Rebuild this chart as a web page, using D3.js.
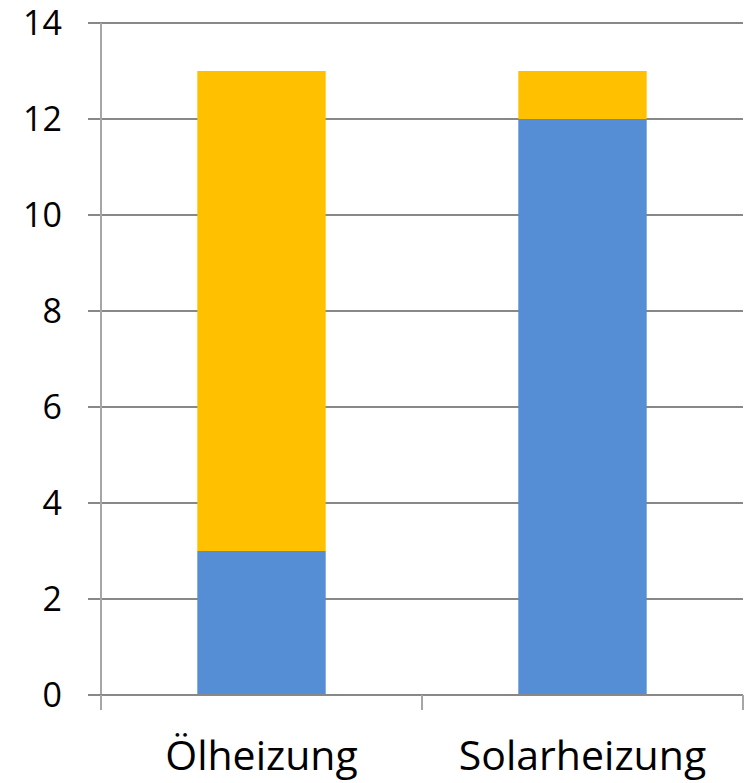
<!DOCTYPE html>
<html>
<head>
<meta charset="utf-8">
<script src="https://cdn.jsdelivr.net/npm/d3@7"></script>
<style>
  html, body { margin: 0; padding: 0; background: #fff; }
  svg { display: block; font-family: "Open Sans", sans-serif; }
</style>
</head>
<body>
<div id="chart"></div>
<script>
// data
const categories = ['Ölheizung', 'Solarheizung'];
const seriesKeys = ['unten', 'oben'];
const lowerValues = [3, 12];
const upperValues = [10, 1];
const yTicks = [0, 2, 4, 6, 8, 10, 12, 14];

const COLORS = { unten: '#558ed5', oben: '#ffc000' };
const WIDTH = 747;
const HEIGHT = 783;
const margin = { top: 23, right: 4, bottom: 88, left: 101 };

const rows = categories.map((c, i) => ({ cat: c, unten: lowerValues[i], oben: upperValues[i] }));
const stacked = d3.stack().keys(seriesKeys)(rows);

const svg = d3.select('#chart').append('svg')
  .attr('width', WIDTH)
  .attr('height', HEIGHT);

const x = d3.scaleBand()
  .domain(categories)
  .range([margin.left, WIDTH - margin.right]);

const y = d3.scaleLinear()
  .domain([0, 14])
  .range([HEIGHT - margin.bottom, margin.top]);

// horizontal gridlines with small left ticks
svg.append('g')
  .selectAll('line')
  .data(yTicks.filter(t => t > 0))
  .join('line')
  .attr('x1', margin.left - 13)
  .attr('x2', WIDTH - margin.right)
  .attr('y1', d => y(d))
  .attr('y2', d => y(d))
  .attr('stroke', '#888')
  .attr('stroke-width', 2);

// y axis line
svg.append('line')
  .attr('x1', margin.left).attr('x2', margin.left)
  .attr('y1', y(14)).attr('y2', y(0))
  .attr('stroke', '#a6a6a6')
  .attr('stroke-width', 2);

// bars
const barW = x.bandwidth() * 0.4;
svg.append('g')
  .selectAll('g')
  .data(stacked)
  .join('g')
  .attr('fill', d => COLORS[d.key])
  .selectAll('rect')
  .data(d => d)
  .join('rect')
  .attr('x', d => x(d.data.cat) + (x.bandwidth() - barW) / 2)
  .attr('width', barW)
  .attr('y', d => y(d[1]))
  .attr('height', d => y(d[0]) - y(d[1]));

// x axis baseline and category ticks
svg.append('line')
  .attr('x1', margin.left - 13).attr('x2', WIDTH - margin.right)
  .attr('y1', y(0)).attr('y2', y(0))
  .attr('stroke', '#888')
  .attr('stroke-width', 2);

const bounds = categories.map(c => x(c)).concat([x.range()[1]]);
svg.append('g')
  .selectAll('line')
  .data(bounds)
  .join('line')
  .attr('x1', d => d).attr('x2', d => d)
  .attr('y1', y(0)).attr('y2', y(0) + 15)
  .attr('stroke', '#a6a6a6')
  .attr('stroke-width', 2);

// y tick labels
svg.append('g')
  .selectAll('text')
  .data(yTicks)
  .join('text')
  .attr('x', 62)
  .attr('y', d => y(d))
  .attr('dy', '0.36em')
  .attr('text-anchor', 'end')
  .attr('font-size', 34)
  .attr('fill', '#000')
  .text(d => d);

// category labels
svg.append('g')
  .selectAll('text')
  .data(categories)
  .join('text')
  .attr('x', d => x(d) + x.bandwidth() / 2)
  .attr('y', 770)
  .attr('text-anchor', 'middle')
  .attr('font-size', 41)
  .attr('fill', '#000')
  .text(d => d);
</script>
</body>
</html>
